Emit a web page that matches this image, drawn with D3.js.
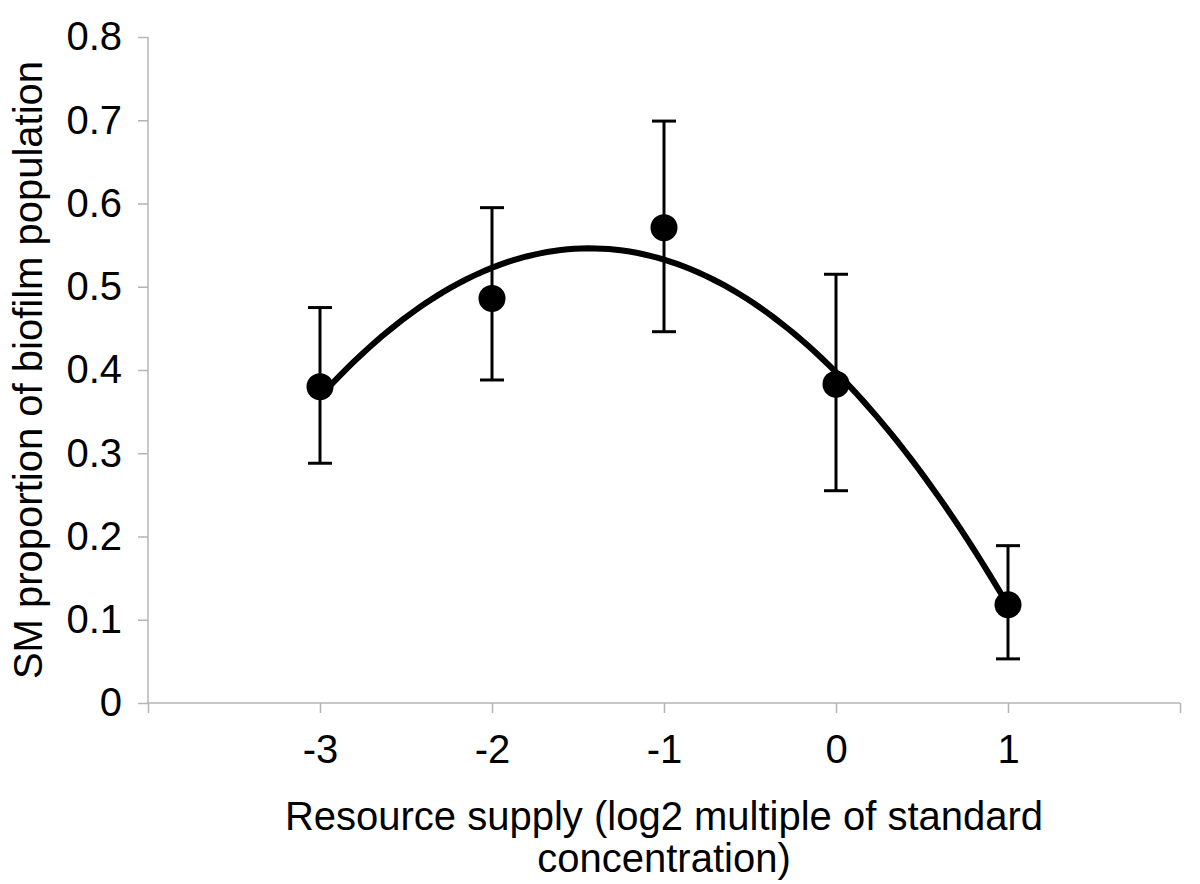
<!DOCTYPE html>
<html>
    <head>
        <meta charset="utf-8">
        <title>SM proportion</title>
        <style>
            html, body {
                margin: 0px;
                padding: 0px;
                background-color: #fff;
            }

            svg text {
                font-family: "Liberation Sans", Arial, sans-serif;
                fill: #000;
            }

            .axis .domain, .axis line {
                stroke: #b4b4b4;
                stroke-width: 1.5px;
            }

            .axis text {
                font-size: 40px;
            }
        </style>
        <script src="https://cdn.jsdelivr.net/npm/d3@7"></script>
    </head>
    <body>
        <div id="main"></div>

        <script>
            // values
            var supply = [-3, -2, -1, 0, 1];
            var proportion = [0.380, 0.486, 0.571, 0.383, 0.118];
            var errUpper = [0.475, 0.595, 0.699, 0.515, 0.189];
            var errLower = [0.288, 0.388, 0.446, 0.255, 0.053];
            var yTicks = [0, 0.1, 0.2, 0.3, 0.4, 0.5, 0.6, 0.7, 0.8];
            var xTickLabels = ["-3", "-2", "-1", "0", "1"];

            var width = 1200;
            var height = 884;
            var margin = {left: 148, right: 20, top: 37, bottom: 181};

            // second order polynomial trendline, least squares on the points
            function polyFit(xs, ys) {
                var n = xs.length, s = [0, 0, 0, 0, 0], t = [0, 0, 0];
                for (var i = 0; i < n; i++) {
                    for (var k = 0; k < 5; k++) s[k] += Math.pow(xs[i], k);
                    for (var k = 0; k < 3; k++) t[k] += ys[i] * Math.pow(xs[i], k);
                }
                var m = [[s[0], s[1], s[2], t[0]], [s[1], s[2], s[3], t[1]], [s[2], s[3], s[4], t[2]]];
                for (var c = 0; c < 3; c++) {
                    for (var r = c + 1; r < 3; r++) {
                        var f = m[r][c] / m[c][c];
                        for (var j = c; j < 4; j++) m[r][j] -= f * m[c][j];
                    }
                }
                var coef = [0, 0, 0];
                for (var r = 2; r >= 0; r--) {
                    var v = m[r][3];
                    for (var j = r + 1; j < 3; j++) v -= m[r][j] * coef[j];
                    coef[r] = v / m[r][r];
                }
                return coef;
            }

            function main() {
                var svg = d3.select("#main")
                            .append("svg")
                            .attr("width", width)
                            .attr("height", height);

                var x = d3.scaleLinear().domain([-4, 2]).range([margin.left, width - margin.right]);
                var y = d3.scaleLinear().domain([0, 0.8]).range([height - margin.bottom, margin.top]);

                svg.append("g")
                    .attr("class", "axis")
                    .attr("transform", "translate(" + margin.left + ",0)")
                    .call(d3.axisLeft(y).tickValues(yTicks).tickSize(10).tickPadding(16)
                        .tickFormat(function(d) { return d === 0 ? "0" : d3.format(".1f")(d); }))
                    .call(function(g) { g.select(".domain").attr("d", "M0," + y(0) + "V" + y(0.8)); });

                svg.append("g")
                    .attr("class", "axis")
                    .attr("transform", "translate(0," + y(0) + ")")
                    .call(d3.axisBottom(x).ticks(6).tickSize(10).tickPadding(22)
                        .tickFormat(function(d) { var i = supply.indexOf(d); return i < 0 ? "" : xTickLabels[i]; }))
                    .call(function(g) { g.select(".domain").attr("d", "M" + x(-4) + ",0H" + x(2)); });

                // trendline
                var coef = polyFit(supply, proportion);
                var xs = d3.range(0, 101).map(function(i) { return -3 + 4 * i / 100; });
                var line = d3.line()
                    .x(function(d) { return x(d); })
                    .y(function(d) { return y(coef[0] + coef[1] * d + coef[2] * d * d); });
                svg.append("path")
                    .datum(xs)
                    .attr("d", line)
                    .attr("fill", "none")
                    .attr("stroke", "#000")
                    .attr("stroke-width", 6);

                // error bars
                var bars = svg.append("g").attr("stroke", "#000").attr("stroke-width", 3);
                supply.forEach(function(s, i) {
                    var cx = x(s);
                    bars.append("line").attr("x1", cx).attr("x2", cx).attr("y1", y(errUpper[i])).attr("y2", y(errLower[i]));
                    bars.append("line").attr("x1", cx - 12).attr("x2", cx + 12).attr("y1", y(errUpper[i])).attr("y2", y(errUpper[i]));
                    bars.append("line").attr("x1", cx - 12).attr("x2", cx + 12).attr("y1", y(errLower[i])).attr("y2", y(errLower[i]));
                });

                svg.append("g")
                    .selectAll("circle")
                    .data(supply)
                    .enter()
                    .append("circle")
                    .attr("cx", function(d) { return x(d); })
                    .attr("cy", function(d, i) { return y(proportion[i]); })
                    .attr("r", 13.5)
                    .attr("fill", "#000");

                svg.append("text")
                    .attr("transform", "translate(42," + ((y(0) + y(0.8)) / 2) + ") rotate(-90)")
                    .style("text-anchor", "middle")
                    .style("font-size", "40px")
                    .text("SM proportion of biofilm population");

                var cx = (x(-4) + x(2)) / 2;
                svg.append("text")
                    .attr("x", cx)
                    .attr("y", 830)
                    .style("text-anchor", "middle")
                    .style("font-size", "40px")
                    .text("Resource supply (log2 multiple of standard");
                svg.append("text")
                    .attr("x", cx)
                    .attr("y", 872)
                    .style("text-anchor", "middle")
                    .style("font-size", "40px")
                    .text("concentration)");
            }

            main();
        </script>
    </body>
</html>
